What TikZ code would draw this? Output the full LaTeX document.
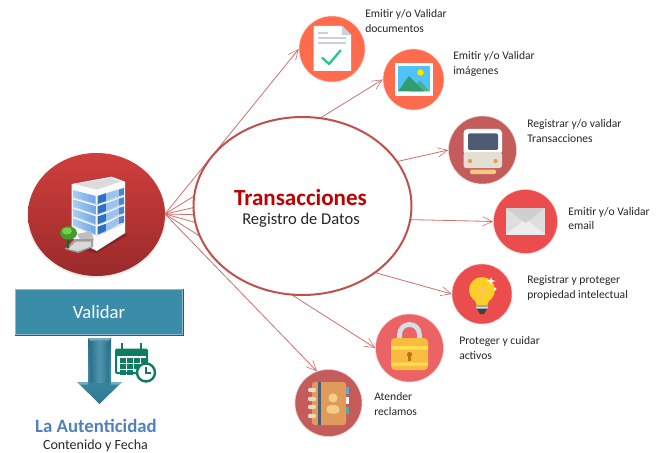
\documentclass[tikz,border=0pt]{standalone}
\usepackage{fontspec}
\setmainfont{Carlito}
\usetikzlibrary{arrows.meta,shadows}
\definecolor{lnk}{HTML}{CE6E6C}
\definecolor{rim}{HTML}{C0504D}
\definecolor{orng}{HTML}{FF6B4D}
\definecolor{rose}{HTML}{C45C5C}
\definecolor{redd}{HTML}{EB4D4F}
\definecolor{lockc}{HTML}{EC6366}
\definecolor{teal1}{HTML}{3A8CA8}
\definecolor{calg}{HTML}{0F7B5F}
\definecolor{txt}{HTML}{262626}
\definecolor{hubt}{HTML}{CF3F3D}
\definecolor{hubb}{HTML}{9A2A2A}
\definecolor{authc}{HTML}{4F81BD}
\definecolor{titlec}{HTML}{C00000}
\definecolor{winl}{HTML}{A9CDF2}
\definecolor{winm}{HTML}{6FA6E6}
\definecolor{wind}{HTML}{2F70C4}
\definecolor{wine}{HTML}{9CC3EC}
\definecolor{floorc}{HTML}{C3CCD6}
\definecolor{sky}{HTML}{4FC3F7}
\definecolor{mnt1}{HTML}{2E9E70}
\definecolor{mnt2}{HTML}{45B28A}
\definecolor{chk}{HTML}{2CC38A}
\definecolor{sheet}{HTML}{CDD0DC}
\definecolor{screen}{HTML}{4D5B73}
\definecolor{beige}{HTML}{E2E0D2}
\definecolor{lamp}{HTML}{EE9B55}
\definecolor{barc}{HTML}{F3CB7E}
\definecolor{bulbc}{HTML}{FFCF25}
\definecolor{lockb}{HTML}{F9BC40}
\definecolor{lockl}{HTML}{FFE14F}
\definecolor{lockk}{HTML}{B5790F}
\definecolor{shack}{HTML}{D5DEE8}
\definecolor{bookc}{HTML}{E09A5C}
\definecolor{spine}{HTML}{4D5B73}
\definecolor{ringc}{HTML}{E8DCC0}
\definecolor{persn}{HTML}{F5CE85}
\definecolor{tabb}{HTML}{5AA9DC}
\definecolor{tabg}{HTML}{45B2A0}
\definecolor{treed}{HTML}{3F9E2C}
\definecolor{treel}{HTML}{74CF4A}
\tikzset{
 icon/.style={circle,inner sep=0pt,draw=white!70!#1,line width=0.4pt,fill=#1},
 link/.style={draw=lnk,line width=0.6pt,-{Straight Barb[length=7.5pt,width=7pt,line width=0.45pt]}},
 lab/.style={anchor=west,align=left,inner sep=0pt,text=txt,font=\fontsize{8.7}{10.6}\selectfont},
}
\begin{document}
\begin{tikzpicture}[x=0.75pt,y=-0.75pt]
\useasboundingbox (0,0) rectangle (661,453);
% hub
\fill[black,opacity=.08] (96.5,216) ellipse [x radius=69.5,y radius=62];
\shade[top color=hubt, bottom color=hubb] (96.5,214.5) ellipse [x radius=68.5,y radius=61.5];
\coordinate (hub) at (165,214);
% icon discs
\node[icon=orng,minimum size=49.5pt] (doc) at (332,49) {};
\node[icon=orng,minimum size=45.75pt] (img) at (413.5,79.5) {};
\node[icon=rose,minimum size=51pt] (train) at (482.5,150) {};
\node[icon=redd,minimum size=48pt] (mail) at (525.5,221.5) {};
\node[icon=redd,minimum size=45pt] (bulb) at (482,294) {};
\node[icon=lockc,minimum size=51pt] (lock) at (409.5,348) {};
\node[icon=rose,minimum size=50.25pt] (book) at (328.5,403) {};
% connectors
\draw[link] (hub) -- (doc.west);
\draw[link] (hub) -- (img.west);
\draw[link] (hub) -- (train.west);
\draw[link] (hub) -- (mail.west);
\draw[link] (hub) -- (bulb.west);
\draw[link] (hub) -- (lock.west);
\draw[link] (hub) -- (book.110);
% central ellipse
\draw[rim,line width=1.5pt,fill=white] (302.5,206) ellipse [x radius=109,y radius=89];
\node[inner sep=0pt,text=titlec,font=\fontsize{17.3}{20}\selectfont\bfseries] (t1) at (300.5,197) {Transacciones};
\node[inner sep=0pt,text=txt,font=\fontsize{12.4}{15}\selectfont] (t2) at (301,220.5) {Registro de Datos};
% building
\fill[black,opacity=.2] (68,248)--(96.7,253)--(128,235)--(110,232)--cycle;
\fill[white!92!floorc] (71.7,184)--(111.7,176.7)--(125,181.7)--(125,233)--(96.7,251)--(71.7,238)--cycle;
\fill[black!14] (74.5,184)--(111,178)--(121,181.5)--(96.7,189.5)--cycle;
\foreach \i in {0,1,2,3}{
 \pgfmathsetmacro\a{190+\i*9.4}
 \pgfmathsetmacro\b{196+\i*10.2}
 \pgfmathsetmacro\c{188+\i*9.2}
 \shade[left color=winl,right color=winm] (73,\a)--(95.7,\b)--(95.7,\b+8)--(73,\a+7)--cycle;
 \fill[wind] (97.7,\b)--(106,\b-2.8)--(106,\b+5.2)--(97.7,\b+8)--cycle;
 \fill[wine] (106,\b-2.8)--(119,\c+1.4)--(119,\c+8.2)--(106,\b+5.2)--cycle;
 \fill[wind!85] (119,\c+1.4)--(124,\c)--(124,\c+6.8)--(119,\c+8.2)--cycle;
 \draw[floorc,line width=.5pt] (73,\a+7.5)--(95.7,\b+8.5)--(97.7,\b+8.5)--(124,\c+7.3);
}
\fill[black!25] (77,234)--(91,231)--(94,240)--(82,243)--cycle;
\fill[black!38] (64.5,249)--(75,239)--(93,239)--(93,247)--(78,253)--cycle;
\fill[black!15] (68,249)--(76,241.5)--(91,241.5)--(91,246.5)--(78,251)--cycle;
\fill[treed!60!black] (67,232)--(70,232)--(69,248)--(66.5,248)--cycle;
\fill[treed] (68.5,233) ellipse [x radius=8.5,y radius=6.7];
\fill[treel] (67,231) ellipse [x radius=5,y radius=3.6];
% validar box
\node[fill=teal1,draw=teal1!60!white,line width=.6pt,minimum width=125.25pt,minimum height=33.75pt,inner sep=0pt,text=white,font=\fontsize{14}{15}\selectfont,drop shadow={opacity=.25,shadow xshift=0pt,shadow yshift=-1.2pt}] (val) at (99,312) {Validar};
\draw[teal1!65!black,line width=.6pt] (val.south west)--(val.south east)--(val.north east);
% down arrow
\shade[top color=teal1!75!black,bottom color=teal1!85!black,middle color=teal1] (88,338)--(111,338)--(111,382)--(122,382)--(99.5,404)--(77,382)--(88,382)--cycle;
\fill[teal1!70!white] (88,338)--(111,338)--(109,340.5)--(90,340.5)--cycle;
\fill[teal1!70!white] (77,382)--(88,382)--(88,384.5)--(80,384.5)--cycle;
\fill[teal1!70!white] (122,382)--(111,382)--(111,384.5)--(119,384.5)--cycle;
\shade[left color=teal1!80!black,right color=teal1!80!black,middle color=teal1!90!white] (90,341)--(109,341)--(109,382)--(90,382)--cycle;
% calendar
\draw[calg,line width=1.5pt,fill=white,rounded corners=.8pt] (116,349.5) rectangle (147,373);
\fill[calg] (116,349.5) rectangle (147,355.5);
\foreach \x in {122,141}{\draw[calg,line width=1.2pt] (\x,343) -- (\x,350);}
\foreach \x/\y in {120/358,127/358,134/358,141/358,120/364,127/364,134/364,120/370,127/370}{\fill[calg] (\x,\y) rectangle ++(5.5,4.5);}
\draw[calg,line width=1.8pt,fill=white] (146,372.5) circle [radius=9];
\draw[calg,line width=1.2pt] (146,367)--(146,373)--(151,373);
% bottom texts
\node[inner sep=0pt,text=authc,font=\fontsize{14.1}{16}\selectfont\bfseries] (auth) at (96,425.5) {La Autenticidad};
\node[inner sep=0pt,text=txt,font=\fontsize{10.5}{13}\selectfont] (cont) at (95.5,446) {Contenido y Fecha};
% document icon
\fill[white] (313.5,26)--(342,26)--(351,35)--(351,71)--(313.5,71)--cycle;
\fill[sheet] (342,26)--(351,35)--(342,35)--cycle;
\foreach \y/\e in {33/328,38/346,43/346}{\fill[sheet] (317.5,\y-1) rectangle (\e,\y+1);}
\draw[chk,line width=1.7pt,line cap=round,line join=round] (322.5,58)--(329,64)--(340.5,50.5);
% image icon
\fill[white] (395,63.5) rectangle (432.5,96);
\fill[sky] (397.5,66) rectangle (430,91.5);
\fill[yellow!90!orange] (420.5,72.5) circle [radius=3.2];
\fill[mnt2] (410,91.5)--(420,80.5)--(429.5,91.5)--cycle;
\fill[mnt1] (398,91.5)--(409,76)--(424,91.5)--cycle;
% train icon
\fill[white,rounded corners=3pt] (463.5,129) rectangle (502,155);
\fill[beige,rounded corners=2pt] (463.5,152) rectangle (502,168);
\fill[screen,rounded corners=1pt] (468,133.5) rectangle (498,150);
\fill[lamp] (470,161) circle [radius=2.2] (495.5,161) circle [radius=2.2];
\fill[barc,rounded corners=1pt] (470,169.5) rectangle (496,174);
% mail icon
\fill[black!13] (506,208) rectangle (545,234.5);
\fill[black!7] (506,234.5)--(525.5,219)--(545,234.5)--cycle;
\fill[black!19] (506,208)--(525.5,223)--(545,208)--cycle;
% bulb icon
\fill[bulbc] (482,290) circle [radius=13];
\fill[bulbc] (474,298)--(490,298)--(487,306)--(477,306)--cycle;
\fill[black!35] (476,305) rectangle (488,309);
\fill[cyan!30] (476,306.5) rectangle (488,308);
\fill[black!75] (477,309) -- (487,309) -- (484,314) -- (480,314) -- cycle;
\draw[orange!50,line width=.8pt] (482,304)--(482,288) (476,293)--(482,287.5)--(488,293);
\fill[white] (491,277) -- (492,280) -- (495.5,281) -- (492,282) -- (491,285.5) -- (490,282) -- (486.5,281) -- (490,280) -- cycle;
\fill[white] (495,287)--(495.6,288.4)--(497,289)--(495.6,289.6)--(495,291)--(494.4,289.6)--(493,289)--(494.4,288.4)--cycle;
% lock icon
\draw[shack,line width=3.6pt] (399.5,340)--(399.5,335) .. controls (399.5,321) and (419.5,321) .. (419.5,335) -- (419.5,340);
\fill[lockb,rounded corners=3pt] (391,338) rectangle (428,370);
\fill[lockl] (391,346) rectangle (428,349.5) (391,362.5) rectangle (428,365.5);
\fill[lockk] (409.5,354.5) circle [radius=2.6];
\fill[lockk] (408.3,355) rectangle (410.7,361);
% book icon
\foreach \y/\c in {387/tabb,397/white,407/tabg}{\fill[\c] (345,\y) rectangle (349,\y+7);}
\fill[bookc,rounded corners=2pt] (312,382) rectangle (346,425);
\fill[spine] (318,382) rectangle (321,425);
\foreach \y in {390,399,407,416}{\fill[ringc,rounded corners=1.5pt] (308,\y-2.2) rectangle (316,\y+2.2);}
\fill[persn] (333,398) circle [radius=4.6];
\fill[persn,rounded corners=3pt] (326,413.5) -- (327,405) -- (339,405) -- (340,413.5) -- cycle;
% labels
\node[lab] (ldoc) at (365,21) {Emitir y/o Validar\\documentos};
\node[lab] (limg) at (453,64) {Emitir y/o Validar\\imágenes};
\node[lab] (ltr) at (527,131) {Registrar y/o validar\\Transacciones};
\node[lab] (lmail) at (568,218.5) {Emitir y/o Validar\\email};
\node[lab] (lbulb) at (527,288) {Registrar y proteger\\propiedad intelectual};
\node[lab] (llock) at (459,348) {Proteger y cuidar\\activos};
\node[lab] (lbook) at (374,404) {Atender\\reclamos};
\end{tikzpicture}
\end{document}
